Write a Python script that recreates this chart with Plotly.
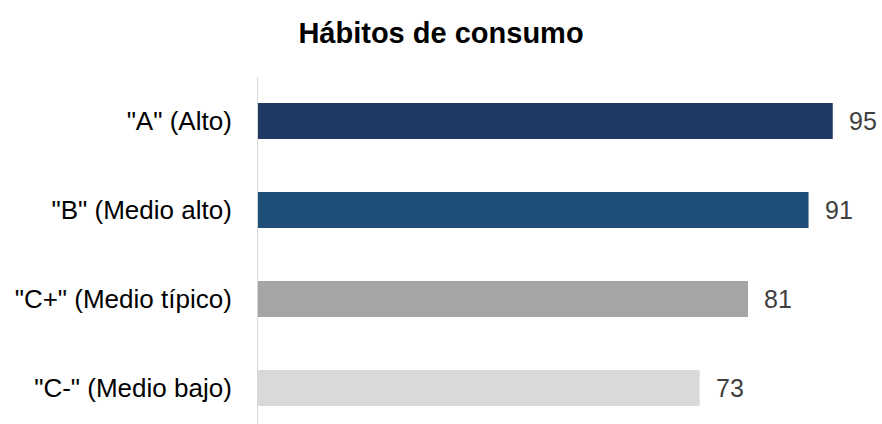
import plotly.graph_objects as go

# Consumption habits by socioeconomic level
categories = ['"C-" (Medio bajo)', '"C+" (Medio típico)', '"B" (Medio alto)', '"A" (Alto)']
values = [73, 81, 91, 95]
colors = ["#D9D9D9", "#A5A5A5", "#1F4E79", "#203864"]

FONT = "Liberation Sans, Arial"

fig = go.Figure(
    go.Bar(
        x=values,
        y=categories,
        orientation="h",
        marker=dict(color=colors, line=dict(width=0)),
        width=0.404,
        hoverinfo="x+y",
    )
)

# value labels to the right of each bar
for cat, val in zip(categories, values):
    fig.add_annotation(
        x=val,
        y=cat,
        text=str(val),
        xref="x",
        yref="y",
        xanchor="left",
        yanchor="middle",
        xshift=14,
        showarrow=False,
        font=dict(family=FONT, size=25, color="#404040"),
    )

fig.update_layout(
    width=882,
    height=424,
    margin=dict(l=258, r=19, t=77, b=0),
    paper_bgcolor="white",
    plot_bgcolor="white",
    showlegend=False,
    title=dict(
        text="<b>Hábitos de consumo</b>",
        x=0.5,
        xanchor="center",
        y=1 - 33 / 424,
        yanchor="middle",
        font=dict(family=FONT, size=29, color="#000000"),
    ),
    xaxis=dict(
        range=[0, 100],
        visible=False,
        showgrid=False,
        zeroline=False,
    ),
    yaxis=dict(
        range=[-0.404, 3.494],
        showgrid=False,
        zeroline=False,
        showline=True,
        linecolor="#D9D9D9",
        linewidth=1,
        ticks="",
        ticklabelstandoff=20,
        tickfont=dict(family=FONT, size=26, color="#000000"),
    ),
)

fig.write_html("out.html")
